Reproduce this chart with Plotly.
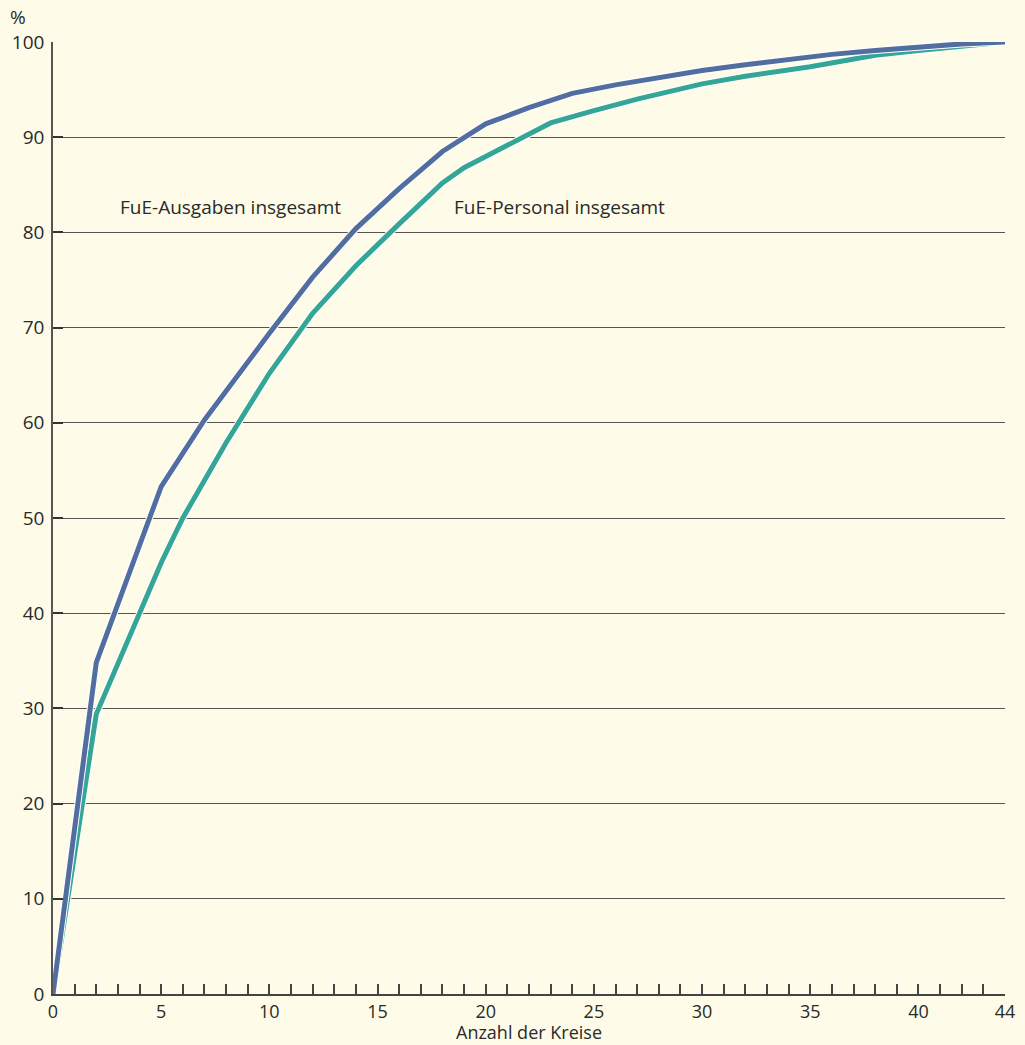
import plotly.graph_objects as go

# Data
x_ausgaben = [0, 2, 5, 7, 10, 12, 14, 16, 18, 20, 22, 24, 26, 28, 30, 32, 34, 36, 38, 40, 42, 44]
y_ausgaben = [0, 34.8, 53.3, 60.3, 69.4, 75.3, 80.4, 84.6, 88.5, 91.4, 93.1, 94.6, 95.5, 96.3, 97.0, 97.6, 98.2, 98.7, 99.1, 99.5, 99.8, 100]

x_personal = [0, 2, 5, 6, 8, 10, 12, 14, 16, 18, 19, 21, 23, 25, 27, 30, 32, 35, 38, 40, 42, 44]
y_personal = [0, 29.4, 45.3, 50.0, 57.9, 65.2, 71.5, 76.5, 80.9, 85.2, 86.8, 89.2, 91.5, 92.8, 94.0, 95.6, 96.4, 97.4, 98.6, 99.1, 99.6, 100]

x_tickvals = [0, 5, 10, 15, 20, 25, 30, 35, 40, 44]
y_tickvals = [0, 10, 20, 30, 40, 50, 60, 70, 80, 90, 100]

label_ausgaben = "FuE-Ausgaben insgesamt"
label_personal = "FuE-Personal insgesamt"
x_title = "Anzahl der Kreise"
y_title = "%"

BG = "#FEFCE8"
BLUE = "#526EA0"
TEAL = "#35A696"
TXT = "#2a2a2a"
FONT = "Open Sans"
FS = 19

fig = go.Figure()
fig.add_trace(go.Scatter(x=x_personal, y=y_personal, mode="lines",
                         line=dict(color="white", width=7), hoverinfo="skip", showlegend=False))
fig.add_trace(go.Scatter(x=x_personal, y=y_personal, mode="lines",
                         line=dict(color=TEAL, width=5), name=label_personal, showlegend=False))
fig.add_trace(go.Scatter(x=x_ausgaben, y=y_ausgaben, mode="lines",
                         line=dict(color="white", width=7), hoverinfo="skip", showlegend=False))
fig.add_trace(go.Scatter(x=x_ausgaben, y=y_ausgaben, mode="lines",
                         line=dict(color=BLUE, width=5), name=label_ausgaben, showlegend=False))

fig.add_annotation(x=8.2, y=82.7, text=label_ausgaben, showarrow=False,
                   font=dict(family=FONT, size=FS, color=TXT), xanchor="center", yanchor="middle")
fig.add_annotation(x=23.4, y=82.7, text=label_personal, showarrow=False,
                   font=dict(family=FONT, size=FS, color=TXT), xanchor="center", yanchor="middle")
fig.add_annotation(x=0, xref="paper", xshift=-35, y=1, yref="paper", yshift=25,
                   text=y_title, showarrow=False,
                   font=dict(family=FONT, size=FS, color=TXT), xanchor="center", yanchor="middle")
fig.add_annotation(x=0.5, xref="paper", y=0, yref="paper", yshift=-38,
                   text=x_title, showarrow=False,
                   font=dict(family=FONT, size=18, color=TXT), xanchor="center", yanchor="middle")

fig.update_layout(
    width=1025, height=1045,
    margin=dict(l=53, r=20, t=42, b=51, autoexpand=False),
    paper_bgcolor=BG, plot_bgcolor=BG,
    font=dict(family=FONT, size=FS, color=TXT),
    xaxis=dict(
        range=[0, 44], tickvals=x_tickvals, ticktext=[str(v) for v in x_tickvals],
        ticks="inside", ticklen=10, tickwidth=1.5, tickcolor="#444",
        showgrid=False, zeroline=False,
        showline=True, linecolor="#444", linewidth=2,
        minor=dict(dtick=1, tick0=0, ticks="inside", ticklen=10, tickwidth=1.5, tickcolor="#444", showgrid=False),
        tickfont=dict(family=FONT, size=18, color=TXT),
        ticklabelstandoff=0,
    ),
    yaxis=dict(
        range=[0, 100], tickvals=y_tickvals,
        ticks="inside", ticklen=10, tickwidth=1.5, tickcolor="#333",
        showgrid=True, gridcolor="#555", gridwidth=1,
        zeroline=False, showline=True, linecolor="#555", linewidth=1.5,
        tickfont=dict(family=FONT, size=FS, color=TXT),
        ticklabelstandoff=3,
    ),
)

fig.write_html(
    "out.html",
    config={"displayModeBar": False},
    post_script="document.body.style.margin='0';document.body.style.padding='0';document.body.style.overflow='hidden';",
)
